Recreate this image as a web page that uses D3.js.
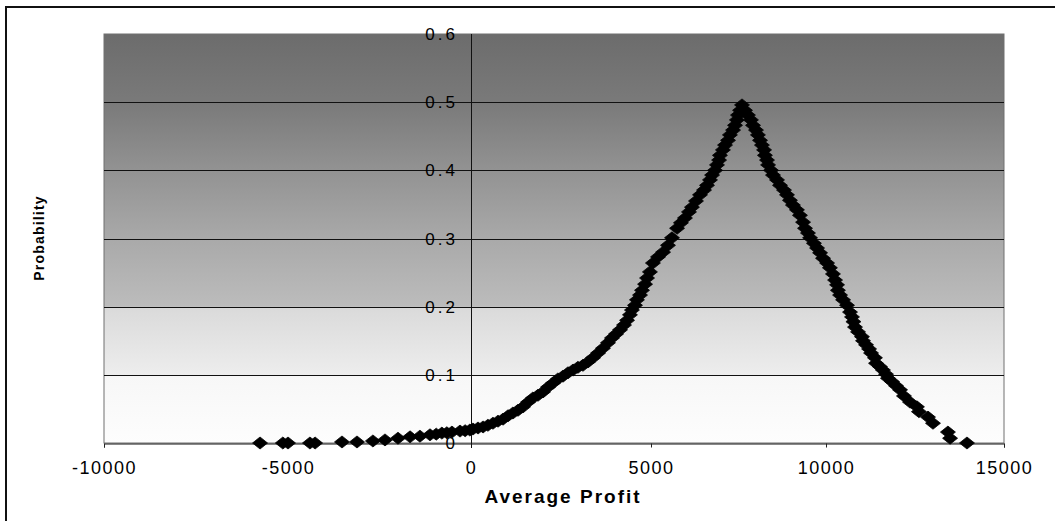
<!DOCTYPE html>
<html lang="en">
<head>
  <meta charset="UTF-8">
  <title>Average Profit vs Probability</title>
  <style>
    body {
      margin: 0;
      background: #fff;
      font-family: Arial, "Liberation Sans", sans-serif;
    }
    .tick text {
      font-size: 18px;
      letter-spacing: 1.5px;
      fill: #000;
    }
    .tick line {
      stroke: #222;
    }
  </style>
  <script src="https://d3js.org/d3.v7.min.js"></script>
</head>
<body>
  <div id="chart"></div>

  <script>
    // profit / probability pairs
    const profit = [
      -5760, -5140, -5000, -4400, -4260, -3525, -3115, -2680, -2350, -1995,
      -1665, -1395, -1120, -950, -795, -660, -520, -300, -160, -30,
      55, 195, 335, 470, 610, 750, 890, 1030, 1165, 1305,
      1445, 1585, 1720, 1860, 2000, 2140, 2280, 2415, 2555, 2695,
      2835, 2970, 3110, 3250, 3390, 3530, 3665, 3805, 3915, 4030,
      4140, 4250, 4335, 4415, 4470, 4555, 4610, 4695, 4750, 4835,
      4890, 4970, 5055, 5200, 5345, 5485, 5600, 5745, 5855, 5970,
      6085, 6170, 6285, 6400, 6515, 6600, 6685, 6745, 6830, 6885,
      6945, 6970, 7055, 7115, 7200, 7255, 7345, 7400, 7455, 7485,
      7545, 7600,
      7685, 7770, 7855, 7915, 8000, 8055, 8115, 8170, 8230, 8255,
      8315, 8345, 8430, 8485, 8600, 8685, 8800, 8885, 8970, 9055,
      9170, 9255, 9345, 9400, 9485, 9545, 9655, 9745, 9830, 9915,
      10030, 10110, 10195, 10255, 10310, 10335, 10395, 10480, 10590, 10675,
      10730, 10770, 10815, 10900, 11010, 11040, 11125, 11210, 11265, 11375,
      11405, 11515, 11600, 11685, 11740, 11855, 11965, 12080, 12190, 12360,
      12555, 12610, 12865, 13005, 13425, 13485, 13960
    ];
    const probability = [
      0, 0, 0, 0, 0, 0.0015, 0.0015, 0.003, 0.0045, 0.007,
      0.009, 0.010, 0.012, 0.013, 0.0145, 0.015, 0.016, 0.0175, 0.018, 0.019,
      0.0205, 0.022, 0.0235, 0.026, 0.029, 0.032, 0.035, 0.040, 0.044, 0.048,
      0.053, 0.060, 0.066, 0.070, 0.075, 0.082, 0.088, 0.094, 0.098, 0.103,
      0.107, 0.111, 0.114, 0.119, 0.125, 0.132, 0.139, 0.147, 0.154, 0.160,
      0.166, 0.173, 0.180, 0.188, 0.195, 0.202, 0.210, 0.217, 0.224, 0.233,
      0.242, 0.251, 0.264, 0.273, 0.280, 0.290, 0.301, 0.315, 0.323, 0.330,
      0.339, 0.346, 0.355, 0.364, 0.371, 0.378, 0.386, 0.393, 0.400, 0.408,
      0.415, 0.422, 0.430, 0.437, 0.444, 0.452, 0.459, 0.466, 0.474, 0.481,
      0.488, 0.496,
      0.488, 0.481, 0.474, 0.466, 0.459, 0.452, 0.444, 0.437, 0.430, 0.422,
      0.415, 0.408, 0.400, 0.393, 0.386, 0.378, 0.371, 0.364, 0.356, 0.349,
      0.342, 0.334, 0.324, 0.315, 0.308, 0.301, 0.293, 0.286, 0.279, 0.271,
      0.264, 0.257, 0.248, 0.239, 0.232, 0.224, 0.217, 0.210, 0.202, 0.192,
      0.185, 0.178, 0.170, 0.163, 0.156, 0.150, 0.144, 0.138, 0.132, 0.125,
      0.117, 0.112, 0.107, 0.101, 0.095, 0.090, 0.084, 0.078, 0.069, 0.060,
      0.053, 0.046, 0.038, 0.029, 0.016, 0.007, 0
    ];

    const xTicks = [-10000, -5000, 0, 5000, 10000, 15000];
    const yTicks = [0, 0.1, 0.2, 0.3, 0.4, 0.5, 0.6];
    const yTickLabels = ["0", "0.1", "0.2", "0.3", "0.4", "0.5", "0.6"];

    const data = profit.map((p, i) => ({ profit: p, prob: probability[i] }));

    const W = 1055, H = 521;
    const plot = { left: 104, right: 1004, top: 34, bottom: 443 };

    const svg = d3.select("#chart")
      .append("svg")
      .attr("width", W)
      .attr("height", H);

    // x axis spacing is slightly uneven between major ticks
    const x = d3.scaleLinear()
      .domain(xTicks)
      .range([plot.left, 288, 471, 651, 826, plot.right]);

    const y = d3.scaleLinear()
      .domain([0, 0.6])
      .range([plot.bottom, plot.top]);

    // background fill of plot area
    const grad = svg.append("defs")
      .append("linearGradient")
      .attr("id", "bg")
      .attr("x1", 0).attr("y1", 0)
      .attr("x2", 0).attr("y2", 1);
    [
      [0, "#6c6c6c"], [0.17, "#7a7a7a"], [0.33, "#929292"], [0.5, "#a9a9a9"],
      [0.666, "#bcbcbc"], [0.668, "#dadada"], [0.833, "#ededed"],
      [0.835, "#f7f7f7"], [1, "#fdfdfd"]
    ].forEach(s => grad.append("stop").attr("offset", s[0]).attr("stop-color", s[1]));

    svg.append("rect")
      .attr("x", plot.left)
      .attr("y", plot.top)
      .attr("width", plot.right - plot.left)
      .attr("height", plot.bottom - plot.top)
      .attr("fill", "url(#bg)")
      .attr("stroke", "#707070")
      .attr("stroke-width", 1);

    // horizontal gridlines
    svg.append("g")
      .selectAll("line")
      .data(yTicks.filter(d => d > 0 && d < 0.6))
      .enter()
      .append("line")
      .attr("x1", plot.left)
      .attr("x2", plot.right)
      .attr("y1", d => Math.round(y(d)) + 0.5)
      .attr("y2", d => Math.round(y(d)) + 0.5)
      .attr("stroke", "#111")
      .attr("stroke-width", 1);

    // x axis along probability 0
    const xAxis = d3.axisBottom(x)
      .tickValues(xTicks)
      .tickSize(4)
      .tickPadding(14)
      .tickFormat(d => String(d));
    const gx = svg.append("g")
      .attr("transform", `translate(0, ${Math.round(y(0)) + 0.5})`)
      .call(xAxis);
    gx.select(".domain").attr("stroke", "#111");

    // vertical axis at profit 0
    svg.append("line")
      .attr("x1", Math.round(x(0)) + 0.5)
      .attr("x2", Math.round(x(0)) + 0.5)
      .attr("y1", plot.top)
      .attr("y2", plot.bottom + 5)
      .attr("stroke", "#111")
      .attr("stroke-width", 1);

    svg.append("g")
      .selectAll("text")
      .data(yTicks)
      .enter()
      .append("text")
      .attr("x", x(0) - 13)
      .attr("y", d => y(d))
      .attr("dy", "0.36em")
      .attr("text-anchor", "end")
      .style("font-size", "17px")
      .style("letter-spacing", "3px")
      .attr("fill", "#000")
      .text((d, i) => yTickLabels[i]);

    // points
    svg.append("g")
      .selectAll("path")
      .data(data)
      .enter()
      .append("path")
      .attr("transform", d => `translate(${x(d.profit)}, ${y(d.prob)})`)
      .attr("d", "M0,-6L7.5,0L0,6L-7.5,0Z")
      .attr("fill", "#000")
      .attr("stroke", "#000")
      .attr("stroke-width", 0.8);

    // axis titles
    svg.append("text")
      .attr("x", 563)
      .attr("y", 503)
      .attr("text-anchor", "middle")
      .style("font-size", "19px")
      .style("font-weight", "bold")
      .style("letter-spacing", "2px")
      .text("Average Profit");

    svg.append("text")
      .attr("transform", "translate(44, 238) rotate(-90)")
      .attr("text-anchor", "middle")
      .style("font-size", "14px")
      .style("font-weight", "bold")
      .style("letter-spacing", "1.2px")
      .text("Probability");

    // outer frame
    svg.append("rect")
      .attr("x", 6)
      .attr("y", 7)
      .attr("width", W + 20)
      .attr("height", H + 20)
      .attr("fill", "none")
      .attr("stroke", "#111")
      .attr("stroke-width", 2);
  </script>
</body>
</html>
